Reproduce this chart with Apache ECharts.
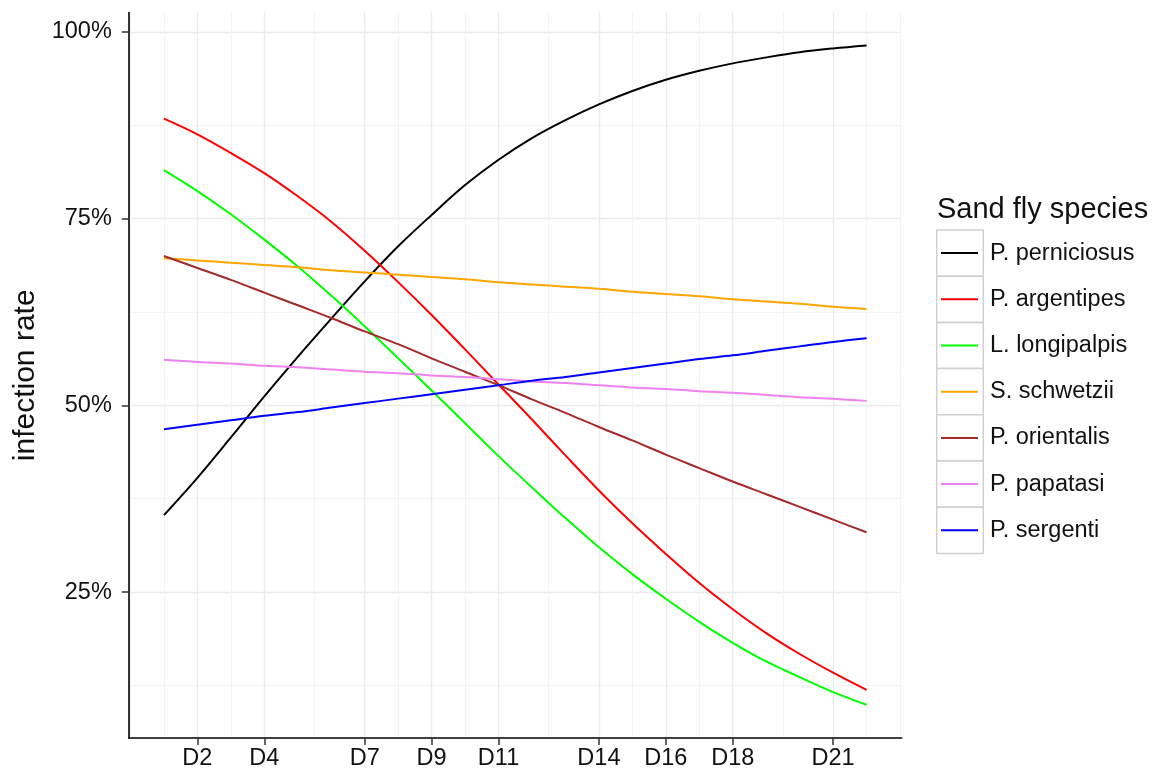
<!DOCTYPE html>
<html>
<head>
<meta charset="utf-8">
<script src="https://cdn.jsdelivr.net/npm/echarts@6.0.0/dist/echarts.min.js"></script>
<style>
html,body{margin:0;padding:0;background:#ffffff;}
#chart{width:1158px;height:774px;}
</style>
</head>
<body>
<div id="chart"></div>
<script>
// ---- data ----
const days = [1,2,3,4,5,6,7,8,9,10,11,12,13,14,15,16,17,18,19,20,21,22];

const speciesNames = ['P. perniciosus','P. argentipes','L. longipalpis','S. schwetzii','P. orientalis','P. papatasi','P. sergenti'];
const speciesColors = ['#000000','#ff0000','#00ff00','#ffa500','#a52a2a','#ee82ee','#0000ff'];

const perniciosus = [35.3,40.3,45.7,51.2,56.5,61.6,66.6,71.3,75.5,79.5,82.9,85.8,88.2,90.3,92.1,93.6,94.8,95.8,96.6,97.3,97.8,98.2];
const argentipes  = [88.4,86.3,83.8,81.1,78.0,74.6,70.7,66.5,62.1,57.5,52.8,48.1,43.3,38.6,34.2,30.1,26.2,22.7,19.5,16.7,14.2,11.9];
const longipalpis = [81.5,78.7,75.6,72.2,68.6,64.7,60.6,56.3,52.0,47.6,43.2,39.0,34.9,31.0,27.4,24.1,21.0,18.2,15.7,13.6,11.6,9.9];
const schwetzii   = [69.7,69.4,69.1,68.8,68.5,68.1,67.8,67.5,67.2,66.9,66.5,66.2,65.9,65.6,65.2,64.9,64.6,64.2,63.9,63.6,63.2,62.9];
const orientalis  = [70.0,68.4,66.8,65.1,63.4,61.7,59.9,58.2,56.3,54.5,52.7,50.8,49.0,47.1,45.3,43.4,41.6,39.8,38.1,36.4,34.7,33.0];
const papatasi    = [56.1,55.8,55.6,55.3,55.1,54.8,54.5,54.3,54.0,53.8,53.5,53.2,53.0,52.7,52.4,52.2,51.9,51.7,51.4,51.1,50.9,50.6];
const sergenti    = [46.8,47.4,48.0,48.6,49.1,49.7,50.3,50.9,51.5,52.1,52.7,53.3,53.8,54.4,55.0,55.6,56.2,56.7,57.3,57.9,58.5,59.0];

const xMajorTicks = [2,4,7,9,11,14,16,18,21];
const xMinorTicks = [0,1,3,5.5,8,10,12.5,15,17,19.5,22,23];
const yMajorTicks = [25,50,75,100];
const yMinorTicks = [12.5,37.5,62.5,87.5];

const legendTitle = 'Sand fly species';
const yTitle = 'infection rate';

// ---- build chart ----
const seriesValues = [perniciosus, argentipes, longipalpis, schwetzii, orientalis, papatasi, sergenti];
const FONT = "'Liberation Sans', Arial, Helvetica, sans-serif";
const X_MIN = -0.05, X_MAX = 23.05, Y_MIN = 5.45, Y_MAX = 102.6;
const GRID = {left: 128.8, top: 12.6, width: 772.9, height: 725.4};
const LEG = {left: 936.7, top: 230, row: 46.2, box: 46.6};

const chart = echarts.init(document.getElementById('chart'), null, {renderer: 'canvas'});

const series = speciesNames.map((name, i) => ({
  name: name,
  type: 'line',
  xAxisIndex: 1,
  yAxisIndex: 1,
  data: days.map((d, k) => [d, seriesValues[i][k]]),
  symbol: 'none',
  smooth: 0.35,
  color: speciesColors[i],
  lineStyle: {color: speciesColors[i], width: 2},
  emphasis: {disabled: true},
  silent: true,
  z: 3
}));

const option = {
  animation: false,
  backgroundColor: '#ffffff',
  grid: {left: GRID.left, top: GRID.top, width: GRID.width, height: GRID.height, containLabel: false, outerBoundsMode: 'none'},
  title: {
    text: legendTitle, left: 937, top: 195, padding: 0,
    textStyle: {fontFamily: FONT, fontSize: 29, fontWeight: 'normal', color: '#111111'}
  },
  legend: {
    orient: 'vertical', left: LEG.left + 4.3, top: LEG.top, padding: 0,
    itemGap: 0, itemWidth: 44, itemHeight: LEG.row,
    icon: 'path://M0,0h0.01v0.01h-0.01z M0,22.1h37v2h-37z M43.99,46.19h0.01v0.01h-0.01z',
    itemStyle: {borderWidth: 0},
    selectedMode: false,
    data: speciesNames,
    textStyle: {fontFamily: FONT, fontSize: 23.5, color: '#111111'}
  },
  graphic: speciesNames.map((n, i) => ({
    type: 'rect', silent: true, z: 0,
    shape: {x: LEG.left, y: LEG.top + i * LEG.row, width: LEG.box, height: LEG.row},
    style: {fill: '#ffffff', stroke: '#d0d0d0', lineWidth: 1.5}
  })),
  xAxis: [
    { // minor grid
      type: 'value', min: X_MIN, max: X_MAX, position: 'bottom',
      axisLine: {show: false}, axisLabel: {show: false},
      axisTick: {show: false, customValues: xMinorTicks},
      splitLine: {show: true, lineStyle: {color: '#f4f4f4', width: 1}}
    },
    { // major axis
      type: 'value', min: X_MIN, max: X_MAX, position: 'bottom',
      axisLine: {show: true, onZero: false, lineStyle: {color: '#000000', width: 1.6}},
      axisTick: {show: true, length: 7, customValues: xMajorTicks, lineStyle: {color: '#333333', width: 1.5}},
      axisLabel: {show: true, customValues: xMajorTicks, formatter: v => 'D' + v, margin: 9,
                  fontFamily: FONT, fontSize: 23.5, color: '#111111'},
      splitLine: {show: true, lineStyle: {color: '#ebebeb', width: 1.3}}
    }
  ],
  yAxis: [
    { // minor grid
      type: 'value', min: Y_MIN, max: Y_MAX, position: 'left',
      axisLine: {show: false}, axisLabel: {show: false},
      axisTick: {show: false, customValues: yMinorTicks},
      splitLine: {show: true, lineStyle: {color: '#f4f4f4', width: 1}}
    },
    { // major axis
      type: 'value', min: Y_MIN, max: Y_MAX, position: 'left',
      name: yTitle, nameLocation: 'middle', nameRotate: 90, nameGap: 86,
      nameTextStyle: {fontFamily: FONT, fontSize: 30, color: '#111111'},
      axisLine: {show: true, onZero: false, lineStyle: {color: '#000000', width: 1.6}},
      axisTick: {show: true, length: 7, customValues: yMajorTicks, lineStyle: {color: '#333333', width: 1.5}},
      axisLabel: {show: true, customValues: yMajorTicks, formatter: v => v + '%', margin: 17,
                  fontFamily: FONT, fontSize: 23.5, color: '#111111'},
      splitLine: {show: true, lineStyle: {color: '#ebebeb', width: 1.3}}
    }
  ],
  series: series
};

chart.setOption(option);
</script>
</body>
</html>
